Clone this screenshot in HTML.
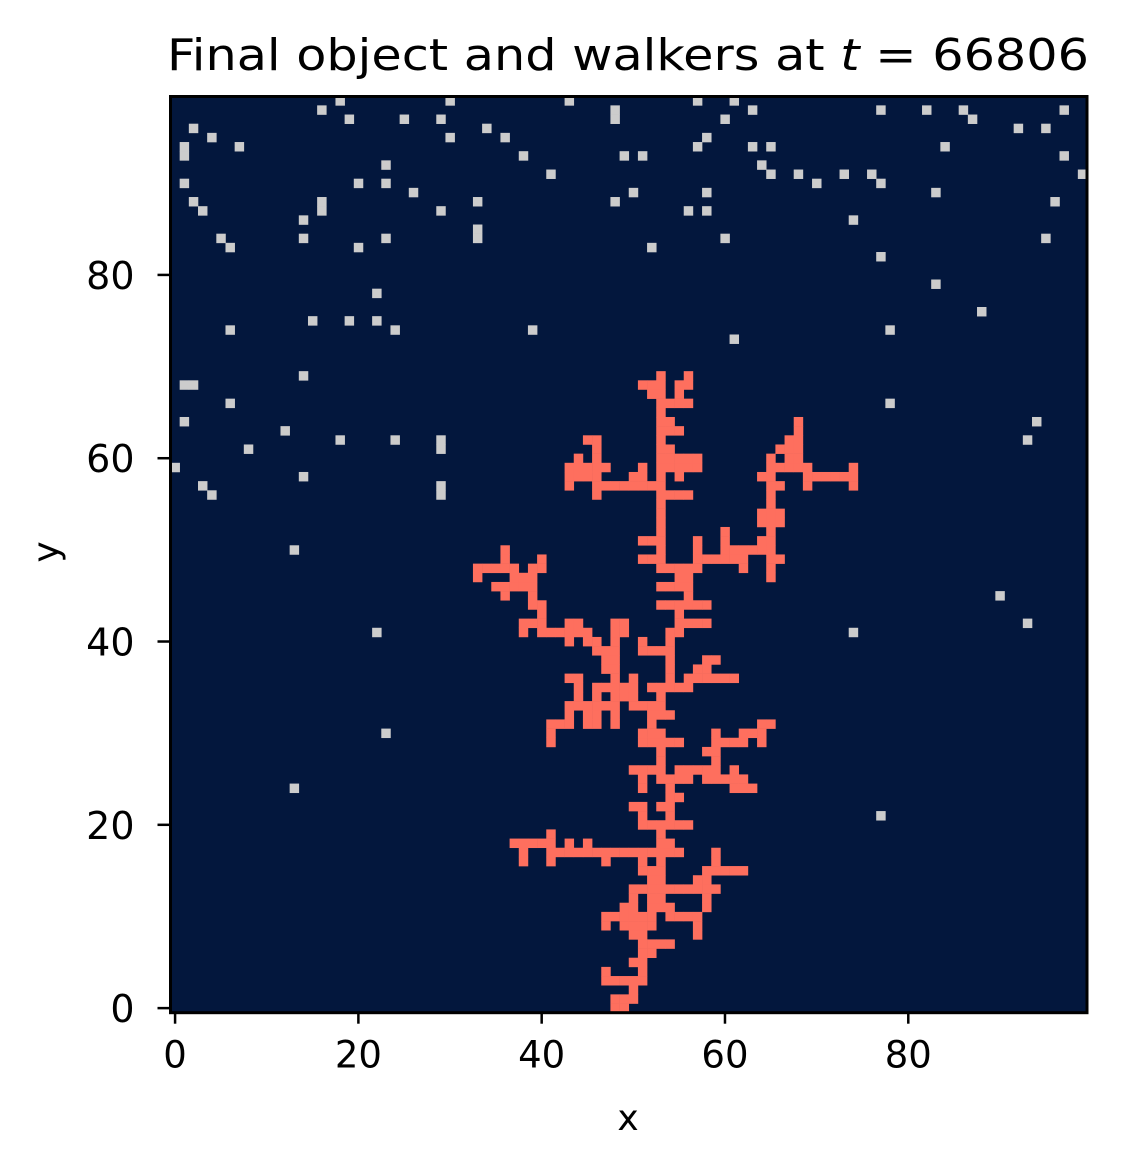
<!DOCTYPE html>
<html><head><meta charset="utf-8"><style>
html,body{margin:0;padding:0;background:#fff;}
svg{display:block;}
text{font-family:"DejaVu Sans","Liberation Sans",sans-serif;fill:#000;}
</style></head><body>
<svg id="chart" width="1122" height="1170" viewBox="0 0 1122 1170" xmlns="http://www.w3.org/2000/svg">
<text x="628" y="70" font-size="44" text-anchor="middle" textLength="922" lengthAdjust="spacingAndGlyphs">Final object and walkers at <tspan font-style="italic">t</tspan> = 66806</text>
<clipPath id="clip"><rect x="170.5" y="96.5" width="916.5" height="916.2"/></clipPath>
<rect x="170.5" y="96.5" width="916.5" height="916.2" fill="#03173d"/>
<g id="cells" clip-path="url(#clip)"></g>
<rect x="170.5" y="96.5" width="916.5" height="916.2" fill="none" stroke="#000" stroke-width="3"/>
<g id="axes"></g>
<text x="628" y="1130" font-size="36" text-anchor="middle">x</text>
<text x="0" y="0" font-size="36" text-anchor="middle" transform="translate(58,552) rotate(-90)">y</text>
</svg>
<script>
// cluster runs: [row, xStart, xEnd]
const clusterRuns = [
[0,48,49],[1,48,50],[2,50,50],[3,47,51],[4,47,47],[4,51,51],[5,50,51],[6,51,52],[7,51,54],
[8,50,51],[8,57,57],[9,47,47],[9,49,52],[9,57,57],[10,47,52],[10,54,57],
[11,49,50],[11,52,54],[11,58,58],[12,50,50],[12,52,53],[12,58,58],[13,50,59],
[14,52,53],[14,57,58],[15,51,53],[15,58,62],
[16,38,38],[16,41,41],[16,47,47],[16,51,51],[16,53,53],[16,59,59],
[17,38,38],[17,41,55],[17,59,59],[18,37,41],[18,43,43],[18,45,45],[18,53,54],
[19,41,41],[19,53,53],[20,51,56],[21,51,51],[21,54,54],[22,50,51],[22,53,54],
[23,54,55],[24,51,51],[24,54,54],[24,61,63],[25,51,51],[25,53,56],[25,58,62],
[26,50,53],[26,55,59],[26,61,61],[27,53,53],[27,59,59],[28,53,53],[28,58,59],
[29,41,41],[29,51,55],[29,59,62],[29,64,64],[30,41,41],[30,51,53],[30,59,59],[30,62,64],
[31,41,43],[31,45,46],[31,48,48],[31,52,52],[31,64,65],
[32,43,43],[32,45,46],[32,48,48],[32,52,54],[33,43,48],[33,50,53],
[34,44,44],[34,46,46],[34,48,50],[34,53,53],[35,44,44],[35,46,50],[35,52,56],
[36,43,44],[36,48,48],[36,50,50],[36,54,54],[36,56,61],
[37,47,48],[37,54,54],[37,57,58],[38,47,48],[38,54,54],[38,58,59],
[39,46,48],[39,51,54],[40,43,43],[40,45,46],[40,48,48],[40,51,51],[40,54,54],
[41,38,38],[41,40,45],[41,48,49],[41,54,55],[42,38,40],[42,43,44],[42,48,49],[42,55,58],
[43,40,40],[43,55,55],[44,39,40],[44,53,58],[45,36,36],[45,39,39],[45,56,56],
[46,35,39],[46,53,56],[47,33,33],[47,37,39],[47,55,56],[47,65,65],
[48,33,37],[48,39,40],[48,53,57],[48,62,62],[48,65,65],
[49,36,36],[49,40,40],[49,51,53],[49,57,62],[49,65,66],
[50,36,36],[50,53,53],[50,57,57],[50,60,65],[51,51,53],[51,57,57],[51,60,60],[51,64,65],
[52,53,53],[52,60,60],[52,65,65],[53,53,53],[53,64,66],[54,53,53],[54,64,66],
[55,53,53],[55,65,65],[56,46,46],[56,53,56],[56,65,65],
[57,43,43],[57,46,53],[57,65,66],[57,69,69],[57,74,74],
[58,43,46],[58,50,51],[58,53,53],[58,55,55],[58,64,65],[58,69,74],
[59,43,47],[59,51,51],[59,53,57],[59,65,69],[59,74,74],
[60,44,44],[60,46,46],[60,53,57],[60,65,65],[60,67,68],
[61,46,46],[61,53,54],[61,66,68],[62,45,46],[62,53,53],[62,67,68],
[63,53,55],[63,68,68],[64,53,54],[64,68,68],[65,53,53],[66,53,56],
[67,52,53],[67,55,55],[68,51,53],[68,55,56],[69,53,53],[69,56,56]
];
const walkerX = [18,30,16,19,25,29,2,4,30,1,1,7,23,1,20,23,26,2,16,16,3,29,14,5,6,14,23,20,22,15,19,22,6,24,
43,57,61,48,48,63,60,34,36,58,57,63,65,38,49,51,64,65,41,50,58,33,48,56,58,33,33,60,52,39,61,
77,82,86,87,97,92,95,84,97,68,73,76,77,70,99,83,96,74,95,77,83,88,78,
14,1,2,6,1,12,18,24,29,29,8,0,14,3,4,29,29,13,
78,94,93,90,93,74,22,23,13,77];
const walkerY = [99,99,98,97,97,97,96,95,95,94,93,94,92,90,90,90,89,88,88,87,87,87,86,84,83,84,84,83,78,75,75,75,74,74,
99,99,99,98,97,98,97,96,95,95,94,94,94,93,93,93,92,91,91,89,89,88,88,87,87,85,84,84,83,74,73,
98,98,98,97,98,96,96,94,93,91,91,91,90,90,91,89,88,86,84,82,79,76,74,
69,68,68,66,64,63,62,62,62,61,61,59,58,57,56,57,56,50,
66,64,62,45,42,41,41,30,24,21];
const xTicks = [0,20,40,60,80];
const yTicks = [0,20,40,60,80];

const NS = 'http://www.w3.org/2000/svg';
const left = 170.5, bottom = 1012.7, cell = 9.165;
function sx(c){ return left + c*cell; }
function sy(r){ return bottom - (r+1)*cell; }
const g = document.getElementById('cells');
function addCell(c, r, color, name){
  const el = document.createElementNS(NS,'rect');
  el.setAttribute('x', sx(c).toFixed(2));
  el.setAttribute('y', sy(r).toFixed(2));
  el.setAttribute('width', (cell+0.3).toFixed(2));
  el.setAttribute('height', (cell+0.3).toFixed(2));
  el.setAttribute('fill', color);
  
  
  g.appendChild(el);
}
clusterRuns.forEach(function(run){
  for (let c = run[1]; c <= run[2]; c++) addCell(c, run[0], '#fe6f5e', 'cluster-cell');
});
walkerX.forEach(function(x, i){ addCell(x, walkerY[i], '#cccccc', 'walker-cell'); });

const ax = document.getElementById('axes');
xTicks.forEach(function(t){
  const px = sx(t + 0.5);
  const ln = document.createElementNS(NS,'line');
  ln.setAttribute('x1', px); ln.setAttribute('x2', px);
  ln.setAttribute('y1', bottom); ln.setAttribute('y2', bottom + 11);
  ln.setAttribute('stroke', '#000'); ln.setAttribute('stroke-width', '2.5');
  
  
  ax.appendChild(ln);
  const tx = document.createElementNS(NS,'text');
  tx.setAttribute('x', px); tx.setAttribute('y', bottom + 55);
  tx.setAttribute('font-size', '37'); tx.setAttribute('text-anchor', 'middle');
  tx.textContent = String(t);
  
  
  ax.appendChild(tx);
});
yTicks.forEach(function(t){
  const py = bottom - (t + 0.5)*cell;
  const ln = document.createElementNS(NS,'line');
  ln.setAttribute('x1', left - 13); ln.setAttribute('x2', left);
  ln.setAttribute('y1', py); ln.setAttribute('y2', py);
  ln.setAttribute('stroke', '#000'); ln.setAttribute('stroke-width', '2.5');
  
  
  ax.appendChild(ln);
  const tx = document.createElementNS(NS,'text');
  tx.setAttribute('x', left - 36); tx.setAttribute('y', py + 14);
  tx.setAttribute('font-size', '38'); tx.setAttribute('text-anchor', 'end');
  tx.textContent = String(t);
  
  
  ax.appendChild(tx);
});
</script>
</body></html>
